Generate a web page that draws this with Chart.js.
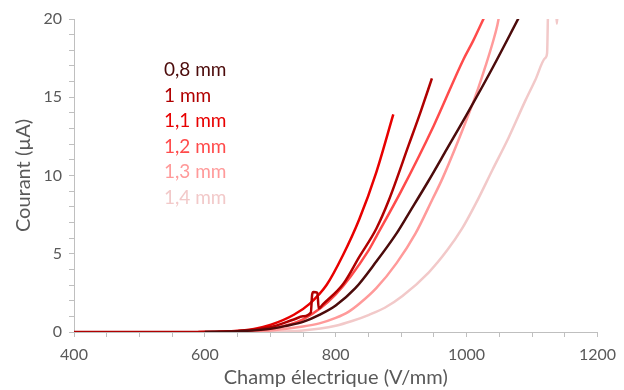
<!DOCTYPE html>
<html>
<head>
<meta charset="utf-8">
<script src="https://cdn.jsdelivr.net/npm/chart.js@4/dist/chart.umd.min.js"></script>
<style>
html,body{margin:0;padding:0;background:#fff;}
#wrap{position:relative;width:624px;height:390px;}
</style>
</head>
<body>
<div id="wrap"><canvas id="c" width="624" height="390"></canvas></div>
<script>
// Series labels and colours
const seriesLabels = ['0,8 mm', '1 mm', '1,1 mm', '1,2 mm', '1,3 mm', '1,4 mm'];
const seriesColors = ['#4C0B0B', '#B00000', '#E80000', '#FF4B4B', '#FF9A9A', '#F2C9C9'];

// Champ électrique (V/mm) and Courant (µA) for each gap
const field08 = [600, 650, 700, 725, 750, 775, 800, 830, 862, 893, 912, 941, 970, 1003, 1040, 1080];
const current08 = [0, 0.05, 0.2, 0.4, 0.65, 1.1, 1.7, 2.8, 4.5, 6.3, 7.6, 9.6, 11.7, 14.1, 16.9, 20.1];

const field10 = [400, 500, 600, 650, 700, 736, 750, 762, 764, 766, 772, 774, 780, 812, 836, 862, 881, 912, 930, 947];
const current10 = [0, 0, 0, 0.05, 0.3, 0.8, 1.0, 1.25, 2.4, 2.55, 2.5, 1.5, 1.75, 3.1, 4.8, 6.6, 8.4, 12.0, 14.1, 16.2];

const field11 = [590, 625, 650, 675, 700, 736, 760, 786, 811, 836, 862, 888];
const current11 = [0, 0.03, 0.08, 0.2, 0.45, 1.1, 1.8, 3.0, 4.9, 7.2, 10.2, 13.9];

const field12 = [620, 650, 700, 750, 800, 850, 862, 900, 950, 995, 1010, 1028];
const current12 = [0, 0.05, 0.2, 0.8, 2.4, 5.2, 6.1, 9.0, 13.2, 17.4, 18.6, 20.2];

const field13 = [650, 700, 750, 775, 800, 820, 836, 862, 893, 922, 948, 963, 1003, 1018, 1029, 1040, 1047, 1051];
const current13 = [0, 0.1, 0.35, 0.55, 0.9, 1.3, 1.8, 2.8, 4.4, 6.3, 8.5, 9.8, 13.9, 15.6, 17.0, 18.5, 19.6, 20.5];

const field14 = [680, 750, 800, 825, 851, 875, 902, 942, 970, 993, 1014, 1040, 1064, 1090, 1105, 1120, 1123, 1125, 1136, 1138, 1140];
const current14 = [0, 0.1, 0.4, 0.7, 1.1, 1.55, 2.3, 3.8, 5.2, 6.6, 8.2, 10.4, 12.4, 14.8, 16.1, 17.5, 17.8, 21, 21, 19.7, 21];

const fields = [field08, field10, field11, field12, field13, field14];
const currents = [current08, current10, current11, current12, current13, current14];

const FONT = 'Lato, "Open Sans", sans-serif';
const GREY = '#595959';

const datasets = seriesLabels.map((label, i) => ({
  label: label,
  data: fields[i].map((x, k) => ({x: x, y: currents[i][k]})),
  borderColor: seriesColors[i],
  backgroundColor: seriesColors[i],
  borderWidth: 2.5,
  pointRadius: 0,
  cubicInterpolationMode: 'monotone',
  fill: false,
  clip: 0
}));

const inlineLegend = {
  id: 'inlineLegend',
  afterDraw(chart) {
    const ctx = chart.ctx;
    const area = chart.chartArea;
    ctx.save();
    ctx.font = '19px ' + FONT;
    ctx.textBaseline = 'middle';
    ctx.textAlign = 'left';
    chart.data.datasets.forEach((ds, i) => {
      ctx.fillStyle = ds.borderColor;
      ctx.fillText(ds.label, area.left + 90, area.top + 51 + i * 25.5);
    });
    ctx.restore();
  }
};

new Chart(document.getElementById('c'), {
  type: 'line',
  data: { datasets: datasets },
  plugins: [inlineLegend],
  options: {
    responsive: false,
    animation: false,
    layout: { padding: { left: 0, top: 19, right: 21, bottom: 0 } },
    plugins: { legend: { display: false }, tooltip: { enabled: false } },
    scales: {
      x: {
        type: 'linear',
        min: 400, max: 1200,
        afterFit(s) { s.height = 58; },
        ticks: {
          stepSize: 50, autoSkip: false, maxRotation: 0, padding: 8,
          color: GREY, font: { family: FONT, size: 16 },
          callback: v => (v % 200 === 0 ? String(v) : '')
        },
        grid: { drawOnChartArea: false, drawTicks: true, tickLength: 5, color: '#BFBFBF' },
        border: { display: true, color: '#BFBFBF', width: 1 },
        title: {
          display: true, text: 'Champ électrique (V/mm)', color: GREY,
          font: { family: FONT, size: 20 }, padding: { top: 0, bottom: 0 }
        }
      },
      y: {
        type: 'linear',
        min: 0, max: 20,
        afterFit(s) { s.width = 74; },
        ticks: {
          stepSize: 1, autoSkip: false, padding: 7,
          color: GREY, font: { family: FONT, size: 16 },
          callback: v => (v % 5 === 0 ? String(v) : '')
        },
        grid: { drawOnChartArea: false, drawTicks: true, tickLength: 5, color: '#BFBFBF' },
        border: { display: true, color: '#BFBFBF', width: 1 },
        title: {
          display: true, text: 'Courant (µA)', color: GREY,
          font: { family: FONT, size: 20 }, padding: { top: 12, bottom: 0 }
        }
      }
    }
  }
});
</script>
</body>
</html>
